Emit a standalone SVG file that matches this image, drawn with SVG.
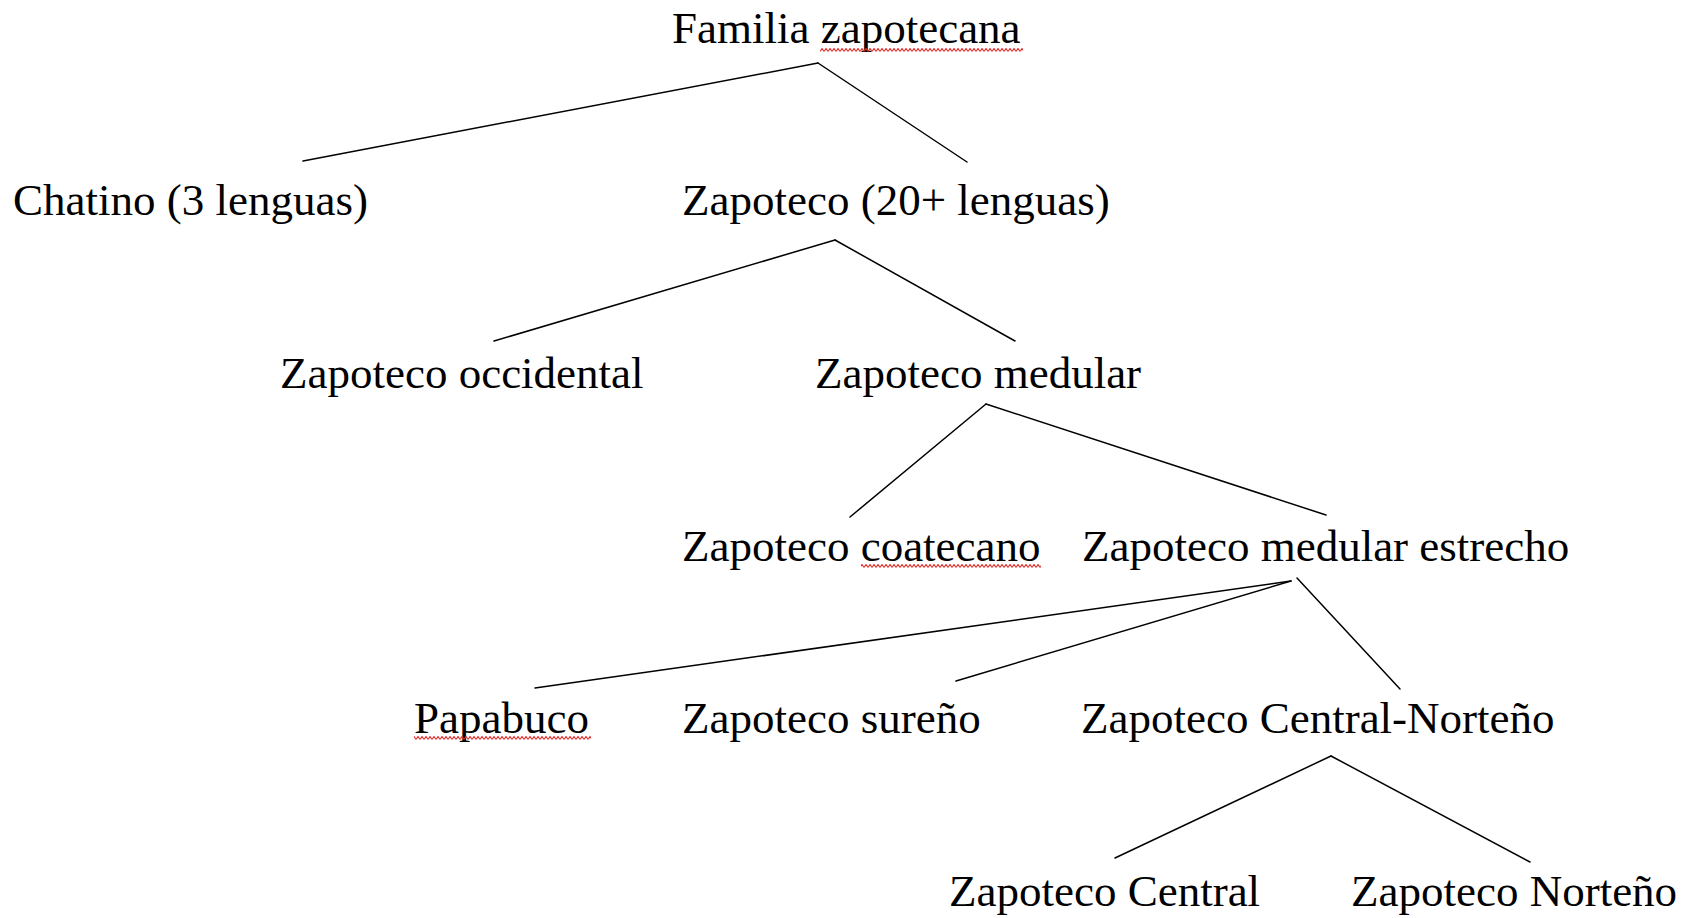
<svg xmlns="http://www.w3.org/2000/svg" width="1681" height="918" viewBox="0 0 1681 918">
  <style>
    .lbl { font-family: "Liberation Serif", "Times New Roman", serif; font-size: 45px; fill: #000; }
    .edge { stroke: #000; stroke-width: 1.5; fill: none; stroke-linecap: round; }
    .squig { fill: url(#wave); }
  </style>
  <defs>
    <pattern id="wave" width="4" height="4" patternUnits="userSpaceOnUse">
      <path d="M0 3.5 L2 0.5 L4 3.5" stroke="#e0302a" stroke-width="1.1" fill="none"/>
    </pattern>
  </defs>
  <rect width="1681" height="918" fill="#fff"/>

  <g id="connectors">
    <line class="edge" x1="818" y1="63" x2="303" y2="161"/>
    <line class="edge" x1="818" y1="63" x2="967" y2="162"/>
    <line class="edge" x1="835" y1="240" x2="494" y2="341"/>
    <line class="edge" x1="835" y1="240" x2="1015" y2="341"/>
    <line class="edge" x1="986" y1="404" x2="850" y2="517"/>
    <line class="edge" x1="986" y1="404" x2="1326" y2="515"/>
    <line class="edge" x1="1291" y1="581" x2="535" y2="688"/>
    <line class="edge" x1="1291" y1="581" x2="956" y2="681"/>
    <line class="edge" x1="1297" y1="578" x2="1400" y2="689"/>
    <line class="edge" x1="1331" y1="756" x2="1115" y2="858"/>
    <line class="edge" x1="1331" y1="756" x2="1530" y2="862"/>
  </g>

  <g id="familia">
    <text class="lbl" x="672" y="43">Familia zapotecana</text>
    <rect class="squig" x="820" y="48" width="203" height="4"/>
  </g>
  <g id="chatino">
    <text class="lbl" x="13" y="215">Chatino (3 lenguas)</text>
  </g>
  <g id="zapoteco">
    <text class="lbl" x="682" y="215">Zapoteco (20+ lenguas)</text>
  </g>
  <g id="occidental">
    <text class="lbl" x="280" y="388">Zapoteco occidental</text>
  </g>
  <g id="medular">
    <text class="lbl" x="815" y="388">Zapoteco medular</text>
  </g>
  <g id="coatecano">
    <text class="lbl" x="682" y="561">Zapoteco coatecano</text>
    <rect class="squig" x="861" y="564" width="180" height="4"/>
  </g>
  <g id="medular-estrecho">
    <text class="lbl" x="1082" y="561">Zapoteco medular estrecho</text>
  </g>
  <g id="papabuco">
    <text class="lbl" x="414" y="733">Papabuco</text>
    <rect class="squig" x="414" y="736" width="177" height="4"/>
  </g>
  <g id="sureno">
    <text class="lbl" x="682" y="733">Zapoteco sureño</text>
  </g>
  <g id="central-norteno">
    <text class="lbl" x="1081" y="733">Zapoteco Central-Norteño</text>
  </g>
  <g id="central">
    <text class="lbl" x="949" y="906">Zapoteco Central</text>
  </g>
  <g id="norteno">
    <text class="lbl" x="1351" y="906">Zapoteco Norteño</text>
  </g>
</svg>
